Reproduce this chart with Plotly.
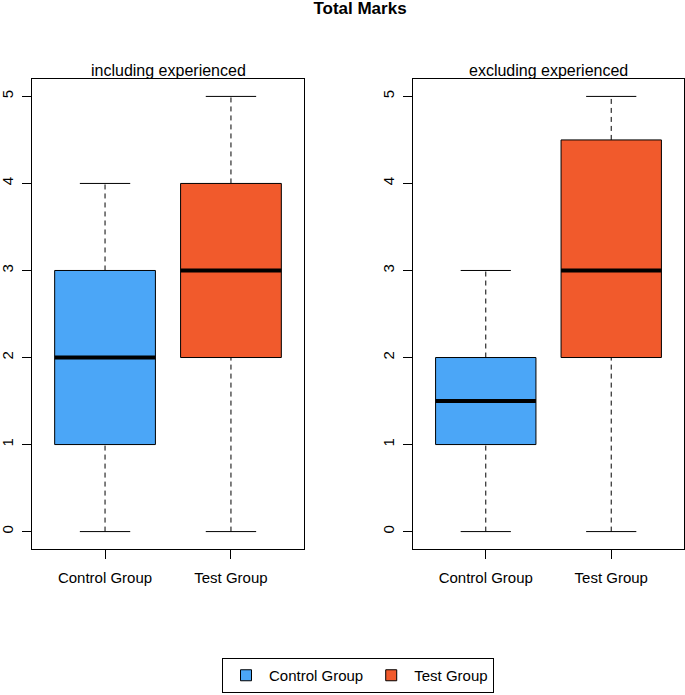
"""
Total Marks - boxplots, con y sin experimentados
"""
import plotly.graph_objects as go

groups = ["Control Group", "Test Group"]
colors = ["#4ba6f7", "#f15a2c"]
panels = ["including experienced", "excluding experienced"]

# estadisticos de cada caja: min, q1, mediana, q3, max
incl_min = [0, 0]
incl_q1 = [1, 2]
incl_med = [2, 3]
incl_q3 = [3, 4]
incl_max = [4, 5]

excl_min = [0, 0]
excl_q1 = [1, 2]
excl_med = [1.5, 3]
excl_q3 = [2, 4.5]
excl_max = [3, 5]

stats = [
    (incl_min, incl_q1, incl_med, incl_q3, incl_max),
    (excl_min, excl_q1, excl_med, excl_q3, excl_max),
]

BOXW = 0.4     # media anchura de caja
CAPW = 0.2     # media anchura de los topes
W, H = 685, 695

fig = go.Figure()


def add_box(fig, pos, lo, q1, med, q3, hi, color, xa, ya):
    """Dibuja una caja estilo R base"""
    # whiskers discontinuos
    for a, b in [(q3, hi), (lo, q1)]:
        fig.add_trace(go.Scatter(
            x=[pos, pos], y=[a, b], mode="lines", xaxis=xa, yaxis=ya,
            line=dict(color="black", width=1, dash="5px,4px"),
            showlegend=False, hoverinfo="skip"))
    # topes
    for v in [lo, hi]:
        fig.add_trace(go.Scatter(
            x=[pos - CAPW, pos + CAPW], y=[v, v], mode="lines", xaxis=xa, yaxis=ya,
            line=dict(color="black", width=1), showlegend=False, hoverinfo="skip"))
    # caja
    fig.add_trace(go.Scatter(
        x=[pos - BOXW, pos + BOXW, pos + BOXW, pos - BOXW, pos - BOXW],
        y=[q1, q1, q3, q3, q1], mode="lines", fill="toself", fillcolor=color,
        xaxis=xa, yaxis=ya, line=dict(color="black", width=1),
        showlegend=False, hoverinfo="skip"))
    # mediana
    fig.add_trace(go.Scatter(
        x=[pos - BOXW, pos + BOXW], y=[med, med], mode="lines", xaxis=xa, yaxis=ya,
        line=dict(color="black", width=4), showlegend=False, hoverinfo="skip"))


for p, (mins, q1s, meds, q3s, maxs) in enumerate(stats):
    xa = "x" if p == 0 else "x2"
    ya = "y" if p == 0 else "y2"
    for i in range(len(groups)):
        add_box(fig, i + 1, mins[i], q1s[i], meds[i], q3s[i], maxs[i],
                colors[i], xa, ya)

# leyenda
for g, c in zip(groups, colors):
    fig.add_trace(go.Scatter(
        x=[None], y=[None], mode="markers", name=g,
        marker=dict(symbol="square", size=11, color=c,
                    line=dict(color="black", width=1))))

font = "Liberation Sans, Arial, sans-serif"
x_doms = [[32 / W, 304 / W], [413 / W, 684 / W]]
y_dom = [1 - 549 / H, 1 - 79 / H]

axis_common = dict(showline=True, linecolor="black", linewidth=1, mirror=True,
                   showgrid=False, zeroline=False, ticks="outside", ticklen=9,
                   tickcolor="black", automargin=False,
                   tickfont=dict(family=font, size=15, color="black"))

layout = dict(
    width=W, height=H,
    margin=dict(l=0, r=0, t=0, b=0),
    plot_bgcolor="white", paper_bgcolor="white",
    font=dict(family=font, color="black"),
    title=dict(text="<b>Total Marks</b>", x=360 / W, xanchor="center",
               y=1 - 2 / H, yref="container", yanchor="top", pad=dict(t=0, b=0),
               font=dict(family=font, size=17, color="black")),
    showlegend=True,
    legend=dict(orientation="h", x=358 / W, xanchor="center", y=2 / H, yanchor="bottom",
                bordercolor="black", borderwidth=1, itemwidth=36,
                font=dict(family=font, size=15, color="black")),
)
for p in range(2):
    sx = "" if p == 0 else "2"
    layout["xaxis" + sx] = dict(
        domain=x_doms[p], range=[0.42, 2.58], tickvals=[1, 2], ticktext=groups,
        anchor="y" + sx, ticklabelstandoff=6, **axis_common)
    layout["yaxis" + sx] = dict(
        domain=y_dom, range=[-0.2, 5.2], tickvals=[0, 1, 2, 3, 4, 5],
        anchor="x" + sx, tickangle=-90, ticklabelstandoff=3, **axis_common)

fig.update_layout(**layout)

# subtitulos de cada panel
for p in range(2):
    fig.add_annotation(text=panels[p], x=sum(x_doms[p]) / 2, y=1 - 70 / H,
                       xref="paper", yref="paper", showarrow=False,
                       xanchor="center", yanchor="middle",
                       font=dict(family=font, size=16, color="black"))

# sin margen del body para que la figura quede en (0, 0)
fig.write_html("out.html", config={"displayModeBar": False},
               post_script="document.body.style.margin='0';")
